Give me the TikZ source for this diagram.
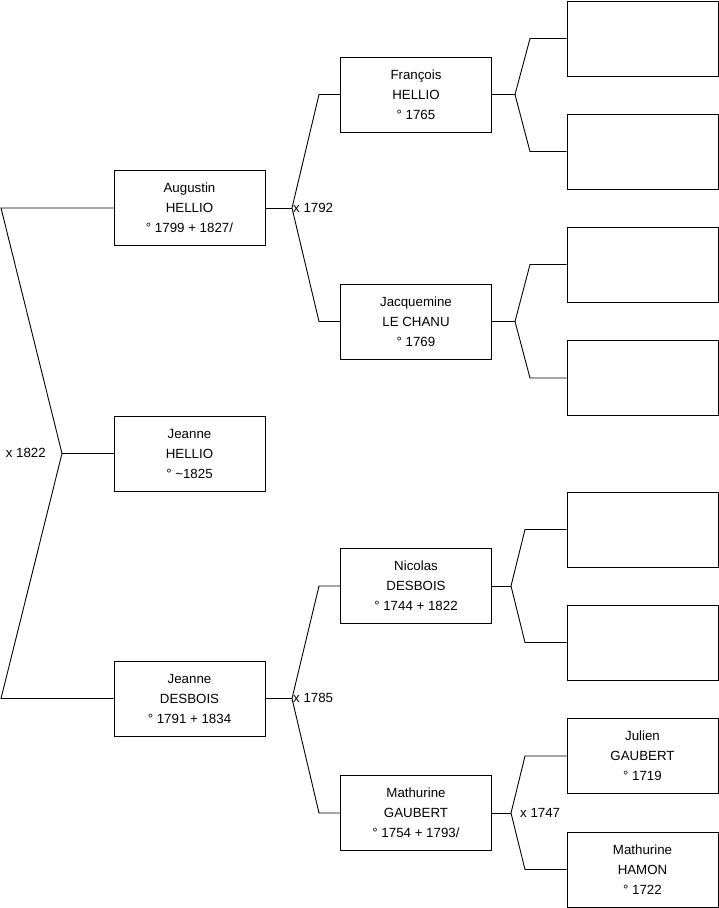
\documentclass[tikz,border=0pt]{standalone}
\usepackage{fontspec}
\setmainfont{Liberation Sans}
\begin{document}
\begin{tikzpicture}[x=1pt,y=-1pt,
  person/.style={draw=black,line width=0.9pt,minimum width=151pt,minimum height=75pt,inner sep=0pt,align=center,font=\fontsize{13.3}{20}\selectfont},
  link/.style={draw=black,line width=0.9pt},
  marr/.style={inner sep=0pt,font=\fontsize{13.3}{16}\selectfont}]
\useasboundingbox (0,0) rectangle (719,908);
% generation 1
\node[person] (aug) at (189.5,208) {Augustin\\HELLIO\\° 1799 + 1827/};
\node[person] (jh) at (189.5,453.5) {Jeanne\\HELLIO\\° \textasciitilde 1825};
\node[person] (jd) at (189.5,698.5) {Jeanne\\DESBOIS\\° 1791 + 1834};
% generation 2
\node[person] (fra) at (416,94.5) {François\\HELLIO\\° 1765};
\node[person] (jac) at (416,321.5) {Jacquemine\\LE CHANU\\° 1769};
\node[person] (nic) at (416,586) {Nicolas\\DESBOIS\\° 1744 + 1822};
\node[person] (mg) at (416,813) {Mathurine\\GAUBERT\\° 1754 + 1793/};
% generation 3
\node[person] (r1) at (642.5,38.5) {};
\node[person] (r2) at (642.5,151.5) {};
\node[person] (r3) at (642.5,264.5) {};
\node[person] (r4) at (642.5,378) {};
\node[person] (r5) at (642.5,529.5) {};
\node[person] (r6) at (642.5,642.5) {};
\node[person] (jul) at (642.5,756) {Julien\\GAUBERT\\° 1719};
\node[person] (mh) at (642.5,869.5) {Mathurine\\HAMON\\° 1722};

% left fork
\coordinate (lt) at (1,208);
\coordinate (lm) at (62,453.5);
\coordinate (lb) at (1,698.5);
\draw[link] (aug.west) -- (lt) -- (lm) -- (lb) -- (jd.west);
\draw[link] (jh.west) -- (lm);
\node[marr,anchor=east] (m1822) at (46,453) {x 1822};

% Augustin fork
\coordinate (fa) at (292,208);
\coordinate (fat) at (319,94.5);
\coordinate (fab) at (319,321.5);
\draw[link] (aug.east) -- (fa);
\draw[link] (fra.west) -- (fat) -- (fa) -- (fab) -- (jac.west);
\node[marr,anchor=west] (m1792) at (293,208) {x 1792};

% Jeanne D fork
\coordinate (fd) at (292,698.5);
\coordinate (fdt) at (319,586);
\coordinate (fdb) at (319,813);
\draw[link] (jd.east) -- (fd);
\draw[link] (nic.west) -- (fdt) -- (fd) -- (fdb) -- (mg.west);
\node[marr,anchor=west] (m1785) at (293,698) {x 1785};

% François fork
\coordinate (ff) at (515,94.5);
\coordinate (fft) at (530,38.5);
\coordinate (ffb) at (530,151.5);
\draw[link] (fra.east) -- (ff);
\draw[link] (r1.west) -- (fft) -- (ff) -- (ffb) -- (r2.west);

% Jacquemine fork
\coordinate (fj) at (515,321.5);
\coordinate (fjt) at (530,264.5);
\coordinate (fjb) at (530,378);
\draw[link] (jac.east) -- (fj);
\draw[link] (r3.west) -- (fjt) -- (fj) -- (fjb) -- (r4.west);

% Nicolas fork
\coordinate (fn) at (511,586);
\coordinate (fnt) at (525,529.5);
\coordinate (fnb) at (525,642.5);
\draw[link] (nic.east) -- (fn);
\draw[link] (r5.west) -- (fnt) -- (fn) -- (fnb) -- (r6.west);

% Mathurine fork
\coordinate (fm) at (511,813);
\coordinate (fmt) at (525,756);
\coordinate (fmb) at (525,869.5);
\draw[link] (mg.east) -- (fm);
\draw[link] (jul.west) -- (fmt) -- (fm) -- (fmb) -- (mh.west);
\node[marr,anchor=west] (m1747) at (520,813) {x 1747};
\end{tikzpicture}
\end{document}
